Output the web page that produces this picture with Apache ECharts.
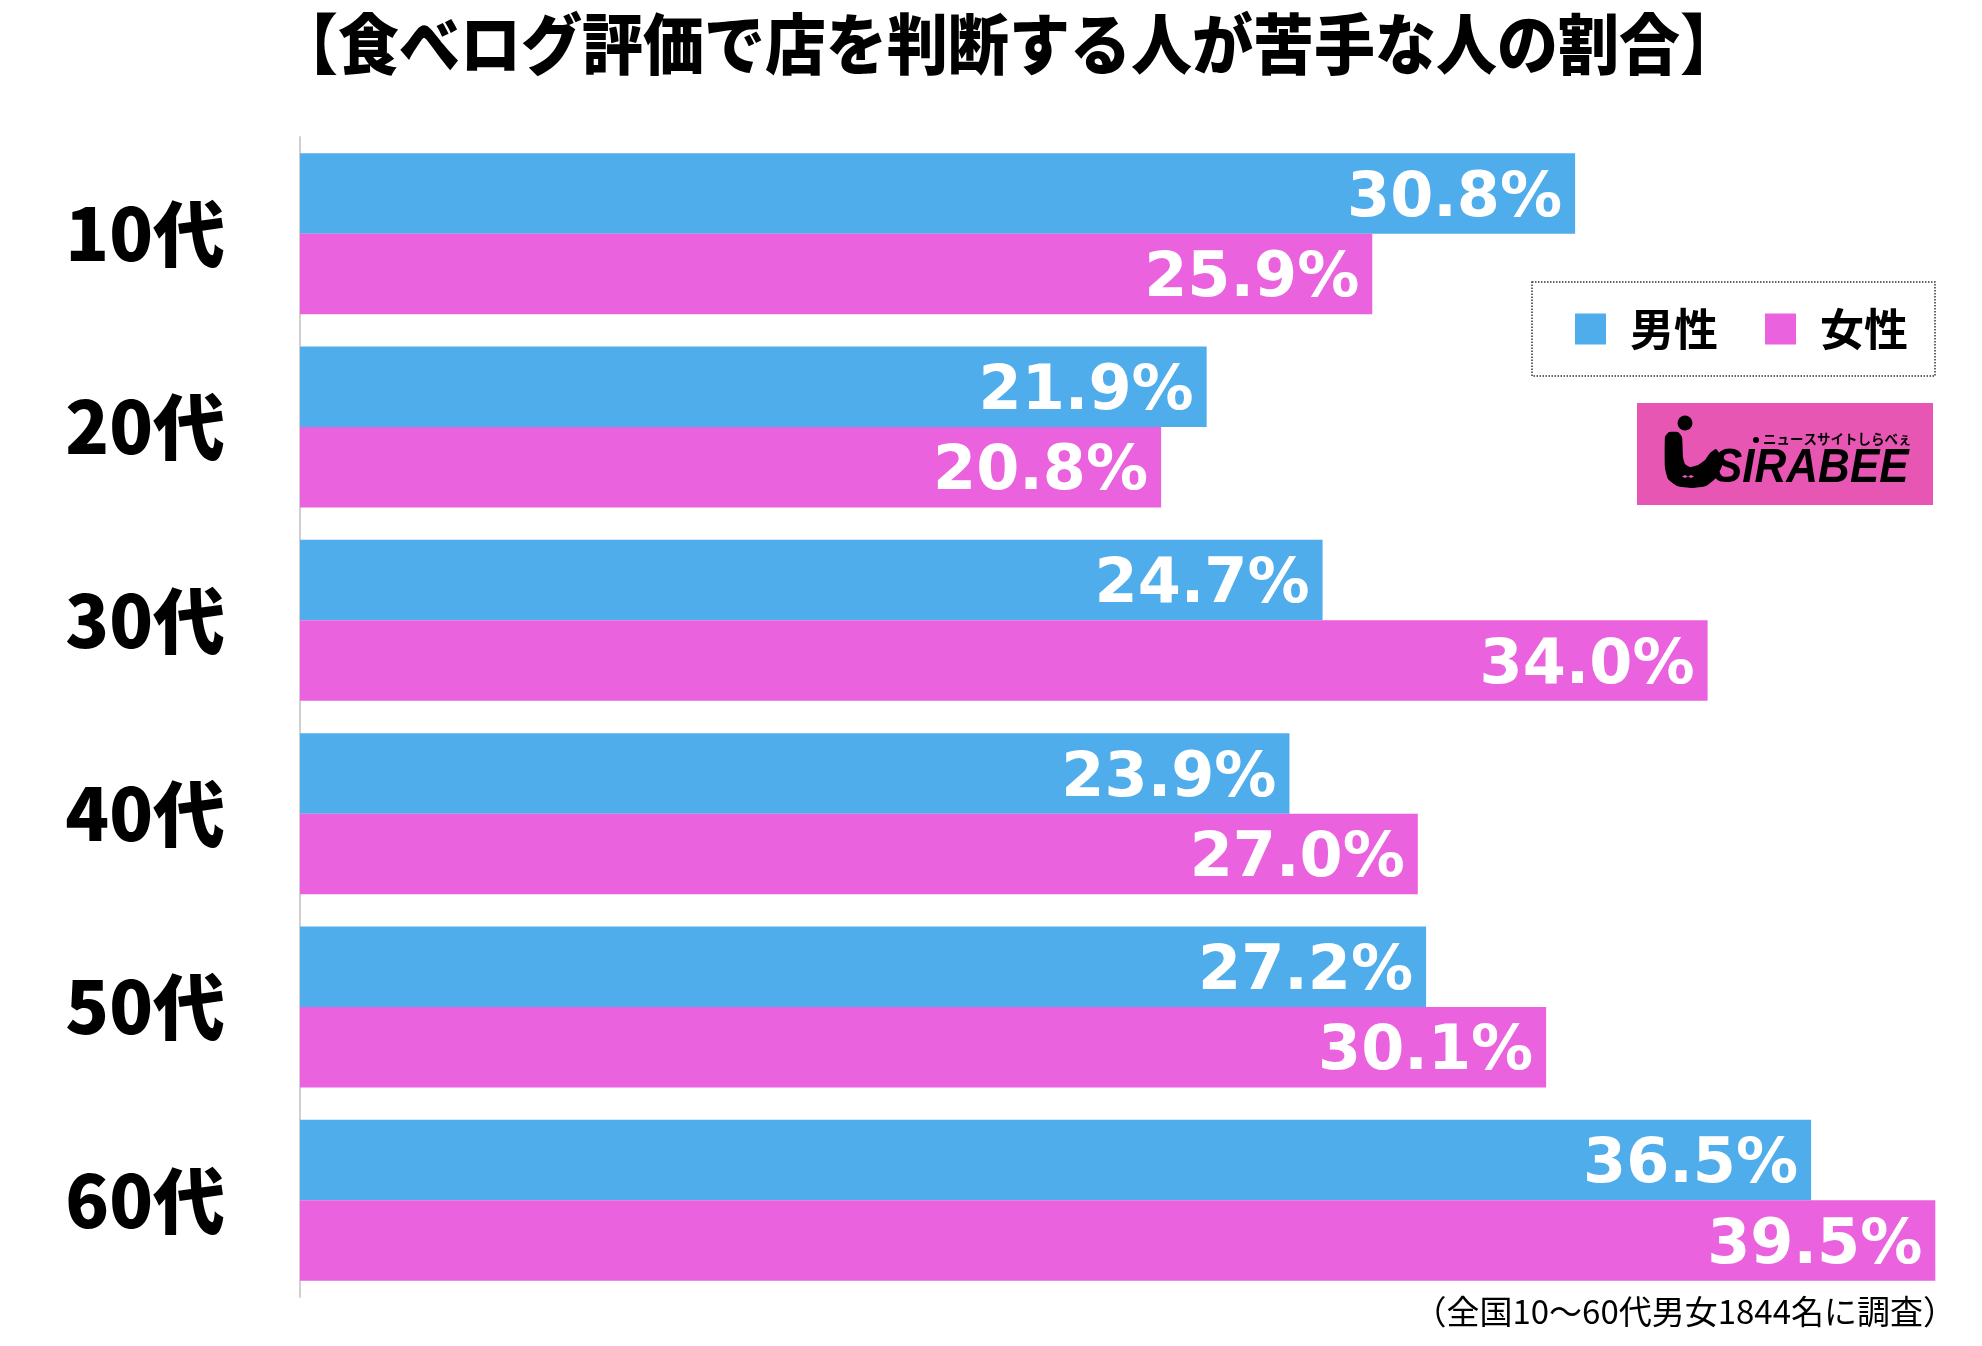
<!DOCTYPE html>
<html>
<head>
<meta charset="utf-8">
<script src="https://cdn.jsdelivr.net/npm/echarts@6/dist/echarts.min.js"></script>
<style>
html,body{margin:0;padding:0;background:#fff;}
#chart{width:1982px;height:1346px;}
</style>
</head>
<body>
<div id="chart"></div>
<script>
const categories = ['10代','20代','30代','40代','50代','60代'];
const maleValues = [30.8, 21.9, 24.7, 23.9, 27.2, 36.5];
const femaleValues = [25.9, 20.8, 34.0, 27.0, 30.1, 39.5];
const seriesNames = ['男性','女性'];
const titleText = '【食べログ評価で店を判断する人が苦手な人の割合】';
const noteText = '（全国10～60代男女1844名に調査）';

const BLUE = '#4EADEA';
const PINK = '#EA62DE';
const CJK = '"Noto Sans CJK JP", sans-serif';

const chart = echarts.init(document.getElementById('chart'));

const valueLabel = {
  show: true,
  position: 'insideRight',
  distance: 13,
  offset: [0, 6],
  color: '#fff',
  fontFamily: '"DejaVu Sans", sans-serif',
  fontWeight: 'bold',
  fontSize: 62,
  formatter: p => p.value.toFixed(1) + '%'
};

const option = {
  backgroundColor: '#fff',
  animation: false,
  grid: { left: 300, top: 137, width: 1656, height: 1160, containLabel: false },
  xAxis: { type: 'value', min: 0, max: 40, show: false },
  yAxis: {
    type: 'category',
    data: categories,
    inverse: true,
    axisLine: { show: true, lineStyle: { color: '#d0d0d0', width: 2 } },
    axisTick: { show: false },
    axisLabel: {
      margin: 75,
      color: '#000',
      fontFamily: CJK,
      fontWeight: 900,
      fontSize: 72
    },
    splitLine: { show: false }
  },
  legend: {
    data: seriesNames,
    left: 1532,
    top: 282,
    orient: 'horizontal',
    icon: 'rect',
    itemWidth: 31,
    itemHeight: 31,
    itemGap: 47,
    padding: [24, 27, 24, 43],
    borderColor: '#333',
    borderWidth: 1.5,
    borderType: 'dotted',
    textStyle: {
      fontFamily: CJK,
      fontWeight: 'bold',
      fontSize: 44,
      lineHeight: 46,
      color: '#000',
      padding: [0, 0, 0, 19]
    }
  },
  series: [
    {
      name: seriesNames[0],
      type: 'bar',
      data: maleValues,
      itemStyle: { color: BLUE },
      barWidth: 80.5,
      barGap: '0%',
      label: valueLabel
    },
    {
      name: seriesNames[1],
      type: 'bar',
      data: femaleValues,
      itemStyle: { color: PINK },
      barWidth: 80.5,
      barGap: '0%',
      label: valueLabel
    }
  ],
  graphic: [
    {
      type: 'text',
      x: 277, y: 11,
      scaleY: 1.08,
      style: {
        text: titleText,
        x: 0, y: 0,
        fontFamily: CJK,
        fontWeight: 900,
        fontSize: 61,
        fill: '#000',
        textVerticalAlign: 'top'
      }
    },
    {
      type: 'text',
      style: {
        text: noteText,
        x: 1956, y: 1311,
        textAlign: 'right',
        textVerticalAlign: 'middle',
        fontFamily: CJK,
        fontSize: 33,
        fill: '#000'
      }
    },
    {
      type: 'group',
      children: [
        { type: 'rect', shape: { x: 1637, y: 403, width: 296, height: 102 }, style: { fill: '#E856B4' } },
        { type: 'circle', shape: { cx: 1685, cy: 423, r: 7.5 }, style: { fill: '#000' } },
        {
          type: 'polygon',
          shape: {
            points: [[1665,437],[1665,468],[1668,479],[1677,486],[1692,488],[1706,486],[1716,478],[1722,466],[1721,456],[1716,449],[1710,453],[1705,460],[1698,465],[1690,467],[1685,464],[1683,457],[1682,437],[1678,432],[1669,432]],
            smooth: 0.15
          },
          style: { fill: '#000' }
        },
        {
          type: 'text',
          style: {
            text: '◂▸◂▸',
            x: 1688, y: 476,
            textAlign: 'center',
            textVerticalAlign: 'middle',
            fontFamily: '"DejaVu Sans", sans-serif', fontSize: 6, fill: '#E856B4'
          }
        },
        { type: 'circle', shape: { cx: 1756, cy: 440, r: 3 }, style: { fill: '#000' } },
        {
          type: 'text',
          style: {
            text: 'ニュースサイトしらべぇ',
            x: 1763, y: 439,
            textVerticalAlign: 'middle',
            fontFamily: CJK, fontWeight: 'bold', fontSize: 13.5, fill: '#000'
          }
        },
        {
          type: 'text',
          x: 1713, y: 469,
          scaleY: 1.1,
          style: {
            text: 'SIRABEE',
            x: 0, y: 0,
            textAlign: 'left',
            textVerticalAlign: 'middle',
            fontFamily: '"Liberation Sans", Arial, sans-serif',
            fontWeight: 'bold', fontStyle: 'italic', fontSize: 44, fill: '#000'
          }
        }
      ]
    }
  ]
};

chart.setOption(option);
</script>
</body>
</html>
